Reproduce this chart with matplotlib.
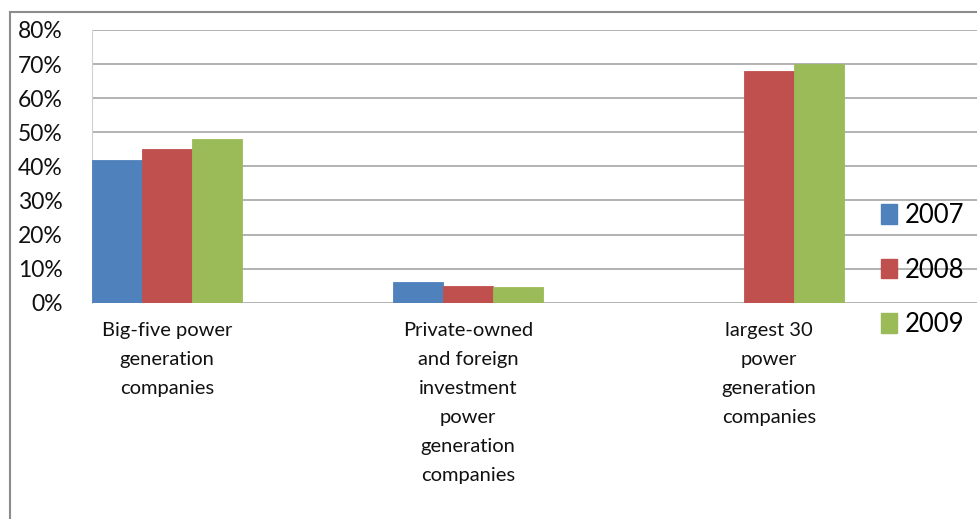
import matplotlib.pyplot as plt
from matplotlib.patches import Patch
from matplotlib.lines import Line2D
from matplotlib.ticker import PercentFormatter

categories = ['Big-five power\ngeneration\ncompanies',
              'Private-owned\nand foreign\ninvestment\npower\ngeneration\ncompanies',
              'largest 30\npower\ngeneration\ncompanies']
years = ['2007', '2008', '2009']
share_2007 = [0.42, 0.06, 0.0]
share_2008 = [0.45, 0.05, 0.68]
share_2009 = [0.48, 0.047, 0.70]
colors = ['#4F81BD', '#C0504D', '#9BBB59']
y_ticks = [0.0, 0.1, 0.2, 0.3, 0.4, 0.5, 0.6, 0.7, 0.8]

W, H = 978, 519
fig = plt.figure(figsize=(W / 100, H / 100), dpi=100)
ax = fig.add_axes([92 / W, (H - 302.7) / H, 1 - 92 / W, (302.7 - 30) / H])

width = 50 / 301
series = [share_2007, share_2008, share_2009]
for k, vals in enumerate(series):
    xs = [i + (k - 1) * width for i in range(len(categories))]
    ax.bar(xs, vals, width=width, color=colors[k], edgecolor=colors[k],
           linewidth=0.6, zorder=3)

ax.set_xlim(-0.25, (W - 167) / 301)
ax.set_ylim(0, 0.8)
ax.set_yticks(y_ticks)
ax.yaxis.set_major_formatter(PercentFormatter(1.0, decimals=0))
ax.grid(axis='y', color='#A6A6A6', linewidth=1.2, zorder=0)
for s in ['top', 'right', 'bottom']:
    ax.spines[s].set_visible(False)
ax.spines['left'].set_color('#D0D0D0')
ax.spines['left'].set_linewidth(0.8)

ax.tick_params(axis='y', length=0, pad=21, labelsize=16.5, labelcolor='#111111')
for lbl in ax.get_yticklabels():
    lbl.set_fontfamily(['Lato', 'DejaVu Sans'])

ax.set_xticks(range(len(categories)))
ax.set_xticklabels(categories)
ax.tick_params(axis='x', length=0, pad=14, labelsize=14.5, labelcolor='#111111')
for lbl in ax.get_xticklabels():
    lbl.set_linespacing(1.85)
    lbl.set_fontfamily(['Lato', 'DejaVu Sans'])
    lbl.set_verticalalignment('top')

handles = [Patch(facecolor=c, edgecolor=c) for c in colors]
fig.legend(handles, years, loc='center left', bbox_to_anchor=(858 / W, 1 - 270 / H),
           frameon=False, handlelength=0.62, handleheight=0.8,
           handletextpad=0.3, labelspacing=1.15,
           prop={'family': ['Lato', 'DejaVu Sans'], 'size': 18.5})

# chart area border
fig.add_artist(Line2D([10 / W, 10 / W], [0, 1 - 12 / H], color='#8C8C8C', lw=1.5))
fig.add_artist(Line2D([10 / W, 1], [1 - 12 / H, 1 - 12 / H], color='#8C8C8C', lw=1.5))

fig.savefig('out.png', dpi=100)
